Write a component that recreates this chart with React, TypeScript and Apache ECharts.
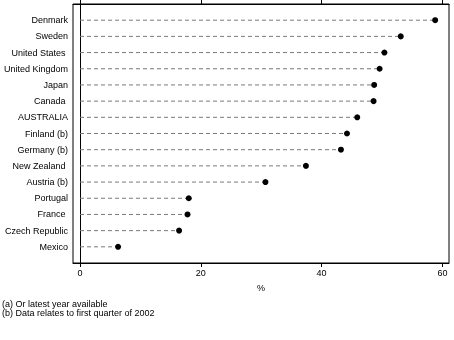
import React, { useEffect, useRef } from "react";
import * as echarts from "echarts";

const categories = [
  "Denmark",
  "Sweden",
  "United States ",
  "United Kingdom",
  "Japan",
  "Canada ",
  "AUSTRALIA",
  "Finland (b)",
  "Germany (b)",
  "New Zealand ",
  "Austria (b)",
  "Portugal",
  "France ",
  "Czech Republic",
  "Mexico",
];
const values = [58.8, 53.1, 50.4, 49.6, 48.7, 48.6, 45.9, 44.2, 43.2, 37.4, 30.7, 18.0, 17.8, 16.4, 6.3];
const xTicks = [0, 20, 40, 60];
const axisName = "%";
const footnotes = ["(a) Or latest year available", "(b) Data relates to first quarter of 2002"];

export default function App() {
  const ref = useRef<HTMLDivElement>(null);
  useEffect(() => {
    const chart = echarts.init(ref.current!, null, { renderer: "svg" });
    const font = "'Liberation Sans', Arial, sans-serif";
    const yData = ["", ...categories, ""];
    const points = values.map((v, i) => [v, i + 1]);
    const xMin = -1.16;
    const xMax = 61.09;
    const axisCommon = {
      type: "value",
      min: xMin,
      max: xMax,
      splitLine: { show: false },
      axisLine: { show: true, lineStyle: { color: "#000", width: 1 } },
      axisTick: { show: true, inside: false, length: 4, customValues: xTicks, lineStyle: { color: "#000" } },
    };
    chart.setOption({
      animation: false,
      grid: {
        left: 73,
        top: 4,
        width: 376,
        height: 259,
        show: true,
        borderColor: "#000",
        borderWidth: 1,
        backgroundColor: "transparent",
      },
      xAxis: [
        {
          ...axisCommon,
          position: "bottom",
          name: axisName,
          nameLocation: "middle",
          nameGap: 20,
          nameTextStyle: { color: "#000", fontSize: 9, fontFamily: font },
          axisLabel: { customValues: xTicks, margin: 5, color: "#000", fontSize: 9, fontFamily: font },
        },
        {
          ...axisCommon,
          position: "top",
          axisLabel: { show: false },
        },
      ],
      yAxis: {
        type: "category",
        data: yData,
        inverse: true,
        boundaryGap: false,
        axisLine: { show: true, lineStyle: { color: "#000" } },
        axisTick: { show: false },
        axisLabel: { color: "#000", fontSize: 9, fontFamily: font, margin: 5, interval: 0 },
        splitLine: { show: false },
      },
      series: [
        {
          type: "custom",
          xAxisIndex: 0,
          data: points,
          encode: { x: 0, y: 1 },
          silent: true,
          z: 1,
          renderItem: (params: any, api: any) => {
            const start = api.coord([0, api.value(1)]);
            const end = api.coord([api.value(0), api.value(1)]);
            return {
              type: "line",
              shape: { x1: start[0], y1: start[1], x2: end[0], y2: end[1] },
              style: { stroke: "#7a7a7a", lineWidth: 1, lineDash: [4, 3] },
            };
          },
        },
        {
          type: "scatter",
          xAxisIndex: 0,
          data: points,
          symbol: "circle",
          symbolSize: 6,
          itemStyle: { color: "#000", opacity: 1 },
          z: 2,
        },
      ],
      graphic: [
        {
          type: "text",
          left: 2,
          top: 299.5,
          style: {
            text: footnotes.join("\n"),
            font: `9px ${font}`,
            lineHeight: 8.5,
            fill: "#000",
          },
        },
      ],
    });
    return () => chart.dispose();
  }, []);
  return <div ref={ref} style={{ position: "fixed", left: 0, top: 0, width: 454, height: 340 }} />;
}
